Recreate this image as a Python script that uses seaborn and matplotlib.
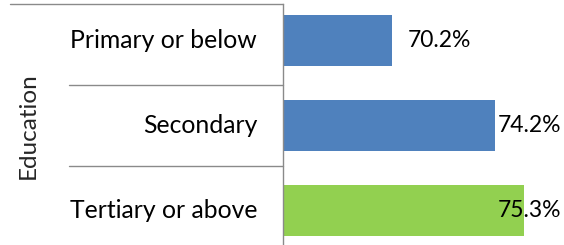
import matplotlib
matplotlib.use("Agg")
import matplotlib.pyplot as plt
import seaborn as sns
import pandas as pd

categories = ["Primary or below", "Secondary", "Tertiary or above"]
values = [70.2, 74.2, 75.3]
bar_colors = ["#4F81BD", "#4F81BD", "#92D050"]
axis_title = "Education"

sns.set_style("white")
plt.rcParams["font.family"] = ["Lato", "DejaVu Sans"]

df = pd.DataFrame({"category": categories, "value": values})

fig = plt.figure(figsize=(5.64, 2.45), dpi=100)
ax = fig.add_axes([0.501, -0.008, 0.499, 0.9918])
sns.barplot(data=df, x="value", y="category", hue="category",
            palette=bar_colors, width=0.6, legend=False, orient="h",
            ax=ax, saturation=1)
for p in ax.patches:
    p.set_edgecolor("none")

ax.set_xlim(66, 76.85)
ax.set_xticks([])
ax.set_yticks([])
ax.set_xlabel("")
ax.set_ylabel("")
for side in ["top", "right", "bottom"]:
    ax.spines[side].set_visible(False)
ax.spines["left"].set_color("#8a8a8a")
ax.spines["left"].set_linewidth(1.0)

# value labels (last one sits inside the bar, as in the original)
offsets = [0.63, 0.08, -1.01]
for i, (v, off) in enumerate(zip(values, offsets)):
    ax.text(v + off, i, f"{v:.1f}%", va="center", ha="left", fontsize=16.5,
            color="black")

# category labels and group grid on the left
for i, cat in enumerate(categories):
    ax.text(-0.09, i, cat, transform=ax.get_yaxis_transform(),
            ha="right", va="center", fontsize=17.8, color="black")

line_kw = dict(color="#8a8a8a", lw=1.0, clip_on=False, transform=fig.transFigure)
ax_left = ax.get_position().x0
top_y = 1 - 4 / 245
ax.plot([10 / 564, ax_left], [top_y, top_y], **line_kw)
for y in [85, 166]:
    ax.plot([69 / 564, ax_left], [1 - y / 245, 1 - y / 245], **line_kw)

fig.text(28 / 564, 1 - 126 / 245, axis_title, rotation=90, ha="center",
         va="center", fontsize=17.5)

fig.savefig("out.png", dpi=100)
